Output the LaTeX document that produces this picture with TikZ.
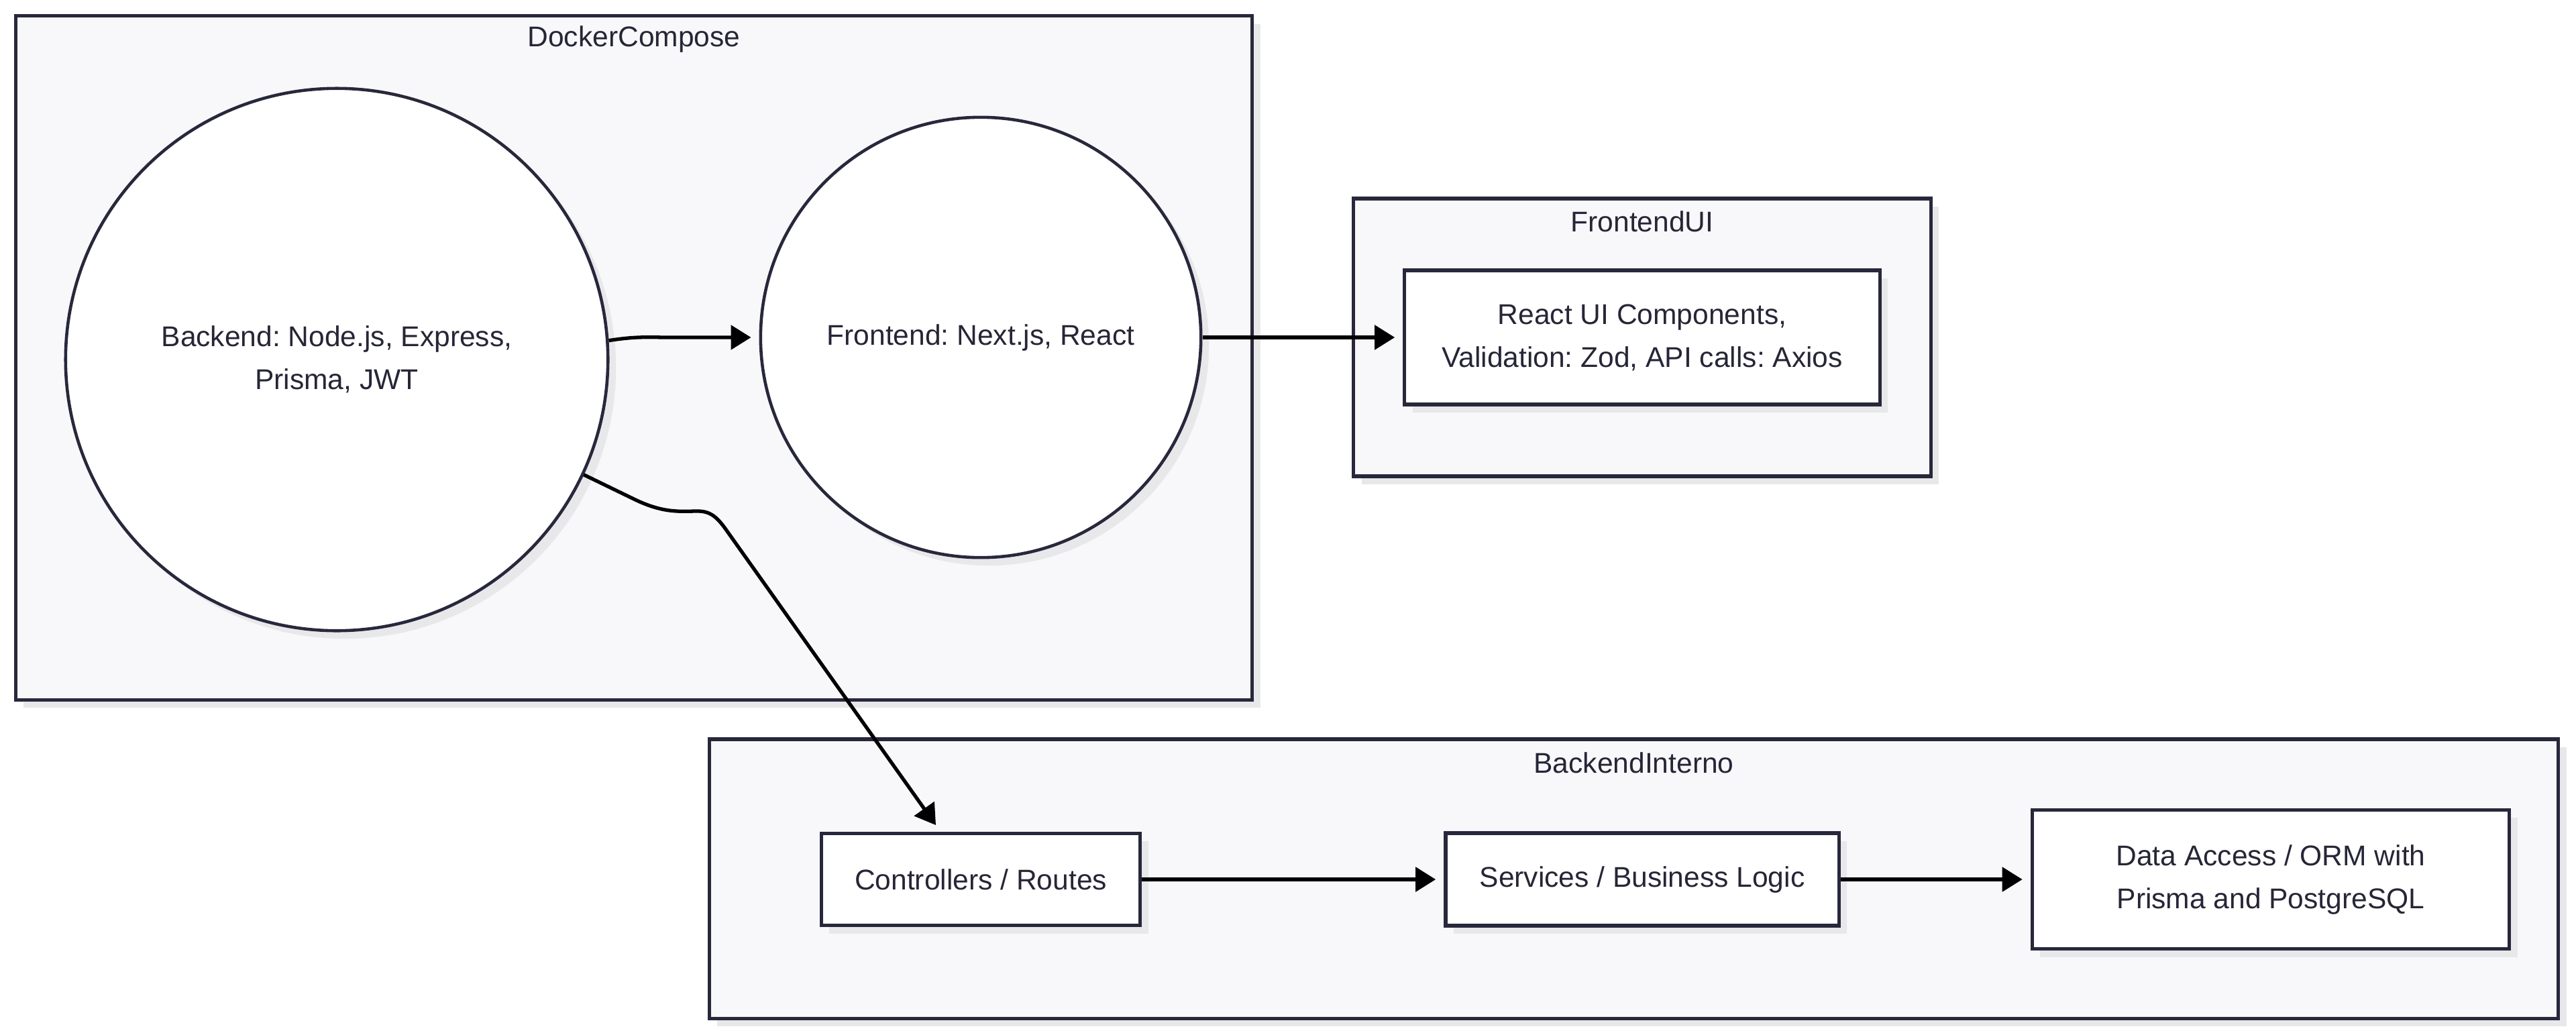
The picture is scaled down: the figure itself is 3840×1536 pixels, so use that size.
\documentclass[tikz,border=0pt]{standalone}
\usepackage{fontspec}
\setmainfont{Liberation Sans}
\usepackage{tikz}
\usetikzlibrary{arrows.meta,shadows,positioning}

\definecolor{boxline}{RGB}{40,40,60}
\definecolor{boxfill}{RGB}{248,248,250}
\definecolor{shadowc}{RGB}{232,232,235}
\definecolor{textc}{RGB}{38,38,55}

\frenchspacing

\begin{document}
\begin{tikzpicture}[x=0.01cm, y=-0.01cm, inner sep=0pt, font=\fontsize{12.1}{18.2}\selectfont, text=textc]
    \tikzstyle{shadowed}=[drop shadow={shadow xshift=0.12cm, shadow yshift=-0.12cm, fill=shadowc, opacity=1}]
    \tikzstyle{cluster}=[rectangle, draw=boxline, fill=boxfill, line width=1.5pt, shadowed]
    \tikzstyle{svc}=[circle, draw=boxline, fill=white, line width=1.3pt, align=center, shadowed]
    \tikzstyle{part}=[rectangle, draw=boxline, fill=white, line width=1.5pt, align=center, shadowed]
    \tikzstyle{flow}=[-{Triangle[length=0.3cm, width=0.36cm]}, draw=black, line width=1.5pt, shorten >=0.12cm]

    \useasboundingbox (0,0) rectangle (3840,1536);

    \node[cluster, minimum width=18.42cm, minimum height=10.19cm] (DockerCompose) at (945,533.5) {};
    \node[cluster, minimum width=8.60cm, minimum height=4.14cm] (FrontendUI) at (2448,503) {};
    \node[cluster, minimum width=27.55cm, minimum height=4.16cm] (BackendInterno) at (2435.5,1310) {};

    \node (DockerComposeLbl) at ([yshift=-0.37cm] DockerCompose.north) {DockerCompose};
    \node (FrontendUILbl) at ([yshift=-0.37cm] FrontendUI.north) {FrontendUI};
    \node (BackendInternoLbl) at ([yshift=-0.38cm] BackendInterno.north) {BackendInterno};

    \node[svc, minimum size=8.08cm] (Backend) at (502,536) {Backend: Node.js, Express,\\Prisma, JWT};
    \node[svc, minimum size=6.56cm] (Frontend) at (1462,503) {Frontend: Next.js, React};

    \node[part, minimum width=7.08cm, minimum height=2.00cm] (ReactUI) at (2448,503) {React UI Components,\\Validation: Zod, API calls: Axios};

    \node[part, minimum width=4.75cm, minimum height=1.37cm] (Controllers) at (1462,1311) {Controllers / Routes};
    \node[part, minimum width=5.86cm, minimum height=1.38cm] (Services) at (2448,1311) {Services / Business Logic};
    \node[part, minimum width=7.11cm, minimum height=2.07cm] (DataAccess) at (3385,1311) {Data Access / ORM with\\Prisma and PostgreSQL};

    \draw[flow] (Backend.4) .. controls (950,501) and (965,503) .. (1000,503) -- (Frontend.west);
    \draw[flow] (Frontend) -- (ReactUI);
    \draw[flow] (Backend.-25) -- (945,744) .. controls (990,766) and (1015,762) .. (1040,762) .. controls (1060,762) and (1070,772) .. (1084,792) -- ([xshift=-0.6cm] Controllers.north);
    \draw[flow] (Controllers) -- (Services);
    \draw[flow] (Services) -- (DataAccess);
\end{tikzpicture}
\end{document}
